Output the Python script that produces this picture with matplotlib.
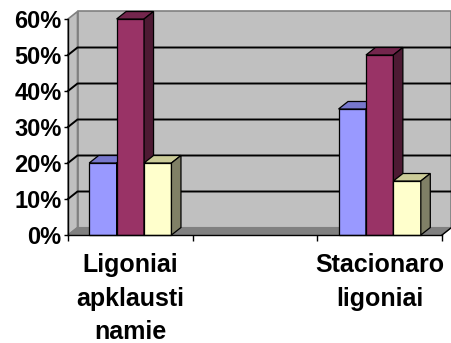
import numpy as np
import matplotlib.pyplot as plt
from matplotlib.patches import Polygon

# =========================
# Data
# =========================
categories = ["Ligoniai\napklausti\nnamie", "", "Stacionaro\nligoniai"]
series_a = [20, np.nan, 35]
series_b = [60, np.nan, 50]
series_c = [20, np.nan, 15]
y_ticks = [0, 10, 20, 30, 40, 50, 60]
y_labels = ["0%", "10%", "20%", "30%", "40%", "50%", "60%"]

# face / top / side colours for each series
colors = [
    ("#9999FF", "#7777CC", "#4D4D80"),
    ("#993366", "#73264D", "#4D1A33"),
    ("#FFFFCC", "#CCCC99", "#808066"),
]

plt.rcParams["font.family"] = ["Liberation Sans", "DejaVu Sans"]

# =========================
# Figure / axes
# =========================
W, H = 452, 343
fig = plt.figure(figsize=(W / 100, H / 100), dpi=100)
ax = fig.add_axes([68 / W, 108 / H, 374 / W, 216 / H])
ymax = 60
ncat = len(categories)
ax.set_xlim(0, ncat)
ax.set_ylim(0, ymax)
ax.set_facecolor("none")

# depth offset of the 3d box (data units)
px_x = 374 / ncat
px_y = 216 / ymax
dx = 9.5 / px_x
dy = 7.5 / px_y


def poly(pts, fc, ec, lw, z):
    p = Polygon(pts, closed=True, facecolor=fc, edgecolor=ec,
                linewidth=lw, zorder=z, clip_on=False, joinstyle="miter")
    ax.add_patch(p)


# back wall, left wall and floor
poly([(dx, dy), (ncat + dx, dy), (ncat + dx, ymax + dy), (dx, ymax + dy)],
     "#C0C0C0", "#808080", 1.2, 1)
poly([(0, 0), (dx, dy), (dx, ymax + dy), (0, ymax)],
     "#C0C0C0", "#808080", 1.2, 1)
poly([(0, 0), (ncat, 0), (ncat + dx, dy), (dx, dy)],
     "#808080", "#808080", 0.8, 1)
ax.plot([ncat, ncat + dx], [0, dy], color="black", lw=1, zorder=2, clip_on=False)

# gridlines on the walls
for v in y_ticks[1:-1]:
    ax.plot([0, dx, ncat + dx], [v, v + dy, v + dy],
            color="black", lw=1.4, zorder=2, clip_on=False)

# =========================
# 3d bars
# =========================
w = 0.22
for j, values in enumerate([series_a, series_b, series_c]):
    face, top, side = colors[j]
    for i, v in enumerate(values):
        if np.isnan(v):
            continue
        x0 = i + 0.5 - 1.5 * w + j * w
        x1 = x0 + w
        z = 3 + i * 3 + j * 0.1
        poly([(x0, 0), (x1, 0), (x1, v), (x0, v)], face, "black", 0.9, z)
        poly([(x0, v), (x1, v), (x1 + dx, v + dy), (x0 + dx, v + dy)],
             top, "black", 0.9, z)
        poly([(x1, 0), (x1 + dx, dy), (x1 + dx, v + dy), (x1, v)],
             side, "black", 0.9, z)

# =========================
# Axes styling
# =========================
for s in ["top", "right"]:
    ax.spines[s].set_visible(False)
ax.spines["left"].set_linewidth(1)
ax.spines["bottom"].set_linewidth(1)
ax.spines["left"].set_zorder(20)
ax.spines["bottom"].set_zorder(20)

ax.set_yticks(y_ticks)
ax.set_yticklabels(y_labels, fontsize=17, fontweight="bold")
ax.tick_params(axis="y", direction="out", length=3, width=1, pad=1.5)

ax.set_xticks(range(ncat + 1))
ax.set_xticklabels([])
ax.tick_params(axis="x", which="major", direction="out", length=4, width=1)
ax.set_xticks([i + 0.5 for i in range(ncat)], minor=True)
ax.set_xticklabels(categories, minor=True, fontsize=18, fontweight="bold",
                   linespacing=1.5)
ax.tick_params(axis="x", which="minor", length=0, pad=13)

fig.savefig("out.png", dpi=100)
